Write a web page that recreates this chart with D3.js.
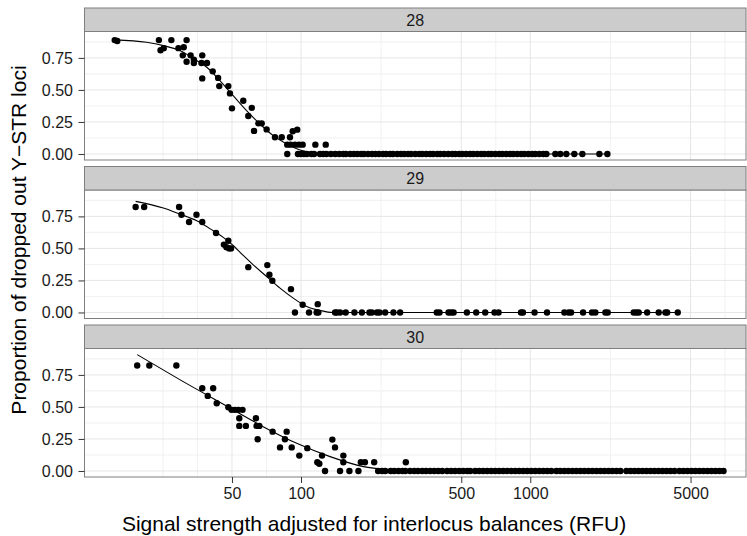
<!DOCTYPE html>
<html>
<head>
<meta charset="utf-8">
<script src="https://cdn.jsdelivr.net/npm/d3@7"></script>
<style>
  html, body { margin: 0; padding: 0; background: #fff; }
  svg { display: block; }
  text { font-family: "Liberation Sans", Arial, Helvetica, sans-serif; }
</style>
</head>
<body>
<svg id="chart" width="747" height="536"></svg>
<script>
// Facet labels: number of Y-STR loci typed
const loci = ["28", "29", "30"];

// --- 28 loci: signal (RFU) and proportion dropped out, non-zero observations
const signal28  = [15.4, 15.8, 24.0, 27.2, 31.7, 24.4, 25.2, 29.2, 30.8, 30.5, 31.7, 33.0, 34.1, 34.1, 37.1, 37.1, 36.8, 38.9,
                   41.2, 43.5, 44.0, 48.2, 49.0, 50.0, 56.0, 58.9, 61.0, 65.2, 67.4, 62.4, 70.8, 77.0, 82.4, 89.5, 92.0, 96.3,
                   87.1, 90.1, 94.1, 98.0, 101.7, 115.5, 128.2];
const dropout28 = [0.889, 0.882, 0.889, 0.889, 0.889, 0.81, 0.826, 0.826, 0.833, 0.77, 0.72, 0.77, 0.735, 0.71, 0.77, 0.59, 0.71, 0.71,
                   0.645, 0.594, 0.53, 0.53, 0.473, 0.356, 0.416, 0.297, 0.36, 0.239, 0.239, 0.18, 0.192, 0.13, 0.13, 0.13, 0.177, 0.19,
                   0.073, 0.073, 0.073, 0.073, 0.073, 0.073, 0.073];
// 28 loci: signals with no dropout
const zeroSignal28 = [87.1, 97, 100, 103, 106, 111, 114, 121, 125, 129, 135, 141, 147, 153, 157, 164, 170, 176, 183, 188, 196, 204,
                      211, 219, 228, 235, 245, 252, 263, 273, 282, 293, 302, 315, 328, 338, 352, 366, 377, 393, 405, 421, 439, 457,
                      471, 490, 505, 525, 547, 564, 587, 611, 630, 656, 676, 703, 732, 755, 786, 818, 843, 877, 913, 941, 980,
                      1020, 1051, 1095, 1140, 1175, 1286, 1352, 1436, 1556, 1687, 2001, 2169];
// 28 loci: fitted dropout curve
const fitSignal28  = [15.4, 21.2, 25.1, 29.6, 35.1, 38.8, 44.3, 50.6, 57.9, 66.2, 75.7, 86.6, 99.0, 113.2, 129.5, 2169];
const fitDropout28 = [0.891, 0.872, 0.846, 0.807, 0.729, 0.677, 0.573, 0.455, 0.338, 0.234, 0.143, 0.078, 0.031, 0.008, 0.0, 0.0];

// --- 29 loci
const signal29  = [19.0, 20.7, 29.4, 30.1, 32.5, 35.0, 37.1, 42.6, 46.1, 47.3, 48.2, 48.6, 49.5, 58.9, 71.3, 72.8, 75.0, 90.4, 101.7, 118.3];
const dropout29 = [0.823, 0.823, 0.823, 0.763, 0.706, 0.763, 0.706, 0.62, 0.53, 0.51, 0.56, 0.50, 0.50, 0.354, 0.37, 0.294, 0.248, 0.182, 0.06, 0.065];
const zeroSignal29 = [94.1, 108.4, 117, 119, 140.8, 143.2, 148, 156.6, 171, 184.3, 198.8, 203.6, 214.3, 219.9, 232.9, 253, 270.6,
                      391, 402, 440, 451, 463, 529, 581, 636, 698, 727, 911, 929, 1044, 1183, 1408, 1469, 1506, 1699, 1858, 1922,
                      2126, 2176, 2825, 2903, 2971, 3233, 3631, 3886, 3953, 4397];
const fitSignal29  = [19.0, 25.1, 29.6, 35.1, 41.4, 45.8, 50.6, 56.0, 61.9, 70.8, 81.0, 92.5, 105.9, 121, 138, 4397];
const fitDropout29 = [0.867, 0.815, 0.768, 0.716, 0.638, 0.586, 0.523, 0.445, 0.372, 0.281, 0.19, 0.112, 0.047, 0.016, 0.0, 0.0];

// --- 30 loci
const signal30  = [19.3, 21.8, 28.6, 37.1, 41.4, 39.2, 42.9, 48.2, 49.8, 51.5, 53.3, 55.6, 53.8, 53.8, 57.5, 63.6, 64.0, 65.8, 64.7,
                   75.2, 86.6, 85.1, 81.0, 91.1, 98.3, 106.5, 117.8, 120.2, 123.5, 137, 140.7, 153, 153, 182.4, 190, 208.5, 286.5];
const dropout30 = [0.823, 0.823, 0.823, 0.646, 0.646, 0.586, 0.529, 0.498, 0.477, 0.477, 0.477, 0.477, 0.412, 0.352, 0.352, 0.412, 0.352, 0.352, 0.248,
                   0.307, 0.307, 0.248, 0.184, 0.184, 0.12, 0.178, 0.068, 0.057, 0.12, 0.245, 0.184, 0.12, 0.068, 0.068, 0.068, 0.068, 0.068];
const zeroSignal30 = [127.3, 148, 162.6, 178, 217, 226, 233, 246, 255, 266, 277, 285, 299, 312, 324, 338, 351, 366, 381, 397, 413,
                      434, 452, 470, 490, 510, 531, 547, 575, 599, 623, 649, 676, 703, 732, 762, 793, 826, 860, 895, 932, 970,
                      1010, 1051, 1095, 1140, 1186, 1235, 1299, 1352, 1408, 1465, 1526, 1588, 1653, 1721, 1792, 1865, 1942, 2022,
                      2104, 2191, 2281, 2374, 2472, 2626, 2734, 2846, 2963, 3084, 3211, 3342, 3479, 3622, 3771, 3926, 4087, 4254,
                      4474, 4658, 4849, 5048, 5254, 5470, 5694, 5928, 6171, 6424, 6687, 6962];
const fitSignal30  = [19.3, 29.6, 49.0, 68.4, 95.8, 133.9, 187.1, 236.7, 309.2, 6962];
const fitDropout30 = [0.908, 0.713, 0.492, 0.346, 0.216, 0.112, 0.034, 0.01, 0.0, 0.0];

// Axis breaks
const xTickValues  = [50, 100, 500, 1000, 5000];
const xMinorValues = [25, 35.36, 70.71, 223.6, 707.1, 2236, 7071];
const yTickValues  = [0, 0.25, 0.5, 0.75];
const yMinorValues = [0.125, 0.375, 0.625, 0.875];

const panels = [
  { label: loci[0], sx: signal28, sy: dropout28, zeros: zeroSignal28, fx: fitSignal28, fy: fitDropout28 },
  { label: loci[1], sx: signal29, sy: dropout29, zeros: zeroSignal29, fx: fitSignal29, fy: fitDropout29 },
  { label: loci[2], sx: signal30, sy: dropout30, zeros: zeroSignal30, fx: fitSignal30, fy: fitDropout30 }
];

// Layout
const left = 84.5, right = 746;
const top0 = 8, stripH = 23.5, panelH = 128.5, gap = 6.5;
const tickFont = 16, titleFont = 21;
const borderCol = "#7f7f7f";

const svg = d3.select("#chart");
svg.append("rect").attr("width", 747).attr("height", 536).attr("fill", "#fff");

const x = d3.scaleLog().domain([11.37, 8725]).range([left, right]);

panels.forEach((p, i) => {
  const stripTop = top0 + i * (stripH + panelH + gap);
  const pTop = stripTop + stripH;
  const pBot = pTop + panelH;
  const y = d3.scaleLinear().domain([-0.047, 0.956]).range([pBot, pTop]);
  const g = svg.append("g");

  // Panel background
  g.append("rect").attr("x", left).attr("y", pTop).attr("width", right - left).attr("height", panelH).attr("fill", "#fff");

  // Minor grid
  g.selectAll(".gxm").data(xMinorValues).enter().append("line")
    .attr("x1", d => x(d)).attr("x2", d => x(d)).attr("y1", pTop).attr("y2", pBot)
    .attr("stroke", "#f2f2f2").attr("stroke-width", 1.1);
  g.selectAll(".gym").data(yMinorValues).enter().append("line")
    .attr("x1", left).attr("x2", right).attr("y1", d => y(d)).attr("y2", d => y(d))
    .attr("stroke", "#f2f2f2").attr("stroke-width", 1.1);
  // Major grid
  g.selectAll(".gx").data(xTickValues).enter().append("line")
    .attr("x1", d => x(d)).attr("x2", d => x(d)).attr("y1", pTop).attr("y2", pBot)
    .attr("stroke", "#e3e3e3").attr("stroke-width", 0.9);
  g.selectAll(".gy").data(yTickValues).enter().append("line")
    .attr("x1", left).attr("x2", right).attr("y1", d => y(d)).attr("y2", d => y(d))
    .attr("stroke", "#e3e3e3").attr("stroke-width", 0.9);

  // Points
  const pts = p.sx.map((v, k) => [v, p.sy[k]]).concat(p.zeros.map(v => [v, 0]));
  g.selectAll(".pt").data(pts).enter().append("circle")
    .attr("cx", d => x(d[0])).attr("cy", d => y(d[1])).attr("r", 3.2).attr("fill", "#000");

  // Fitted curve
  const fit = p.fx.map((v, k) => [v, p.fy[k]]);
  g.append("path").datum(fit)
    .attr("d", d3.line().x(d => x(d[0])).y(d => y(d[1])).curve(d3.curveMonotoneX))
    .attr("fill", "none").attr("stroke", "#000").attr("stroke-width", 1.1);

  // Panel border
  g.append("rect").attr("x", left).attr("y", pTop).attr("width", right - left).attr("height", panelH)
    .attr("fill", "none").attr("stroke", borderCol).attr("stroke-width", 1);

  // Strip
  g.append("rect").attr("x", left).attr("y", stripTop).attr("width", right - left).attr("height", stripH)
    .attr("fill", "#cccccc").attr("stroke", borderCol).attr("stroke-width", 1);
  g.append("text").attr("x", (left + right) / 2).attr("y", stripTop + stripH / 2)
    .attr("dy", "0.36em").attr("text-anchor", "middle").attr("font-size", tickFont).attr("fill", "#1a1a1a")
    .text(p.label);

  // Y axis
  const ya = g.append("g").attr("transform", `translate(${left},0)`)
    .call(d3.axisLeft(y).tickValues(yTickValues).tickFormat(d3.format(".2f")).tickSize(6).tickPadding(5.5));
  ya.select(".domain").remove();
  ya.selectAll(".tick line").attr("stroke", "#333").attr("stroke-width", 1);
  ya.selectAll(".tick text").attr("font-size", tickFont).attr("fill", "#1a1a1a")
    .attr("font-family", "Liberation Sans, Arial, sans-serif");

  // X axis on the bottom panel only
  if (i === panels.length - 1) {
    const xa = g.append("g").attr("transform", `translate(0,${pBot})`)
      .call(d3.axisBottom(x).tickValues(xTickValues).tickFormat(d3.format("d")).tickSize(6).tickPadding(5));
    xa.select(".domain").remove();
    xa.selectAll(".tick line").attr("stroke", "#333").attr("stroke-width", 1);
    xa.selectAll(".tick text").attr("font-size", tickFont).attr("fill", "#1a1a1a")
      .attr("font-family", "Liberation Sans, Arial, sans-serif");
  }
});

// Axis titles
svg.append("text").attr("x", 374).attr("y", 531).attr("text-anchor", "middle")
  .attr("font-size", titleFont).attr("fill", "#000")
  .text("Signal strength adjusted for interlocus balances (RFU)");
svg.append("text").attr("transform", "translate(26,240) rotate(-90)").attr("text-anchor", "middle")
  .attr("font-size", titleFont).attr("fill", "#000")
  .text("Proportion of dropped out Y\u2212STR loci");
</script>
</body>
</html>
